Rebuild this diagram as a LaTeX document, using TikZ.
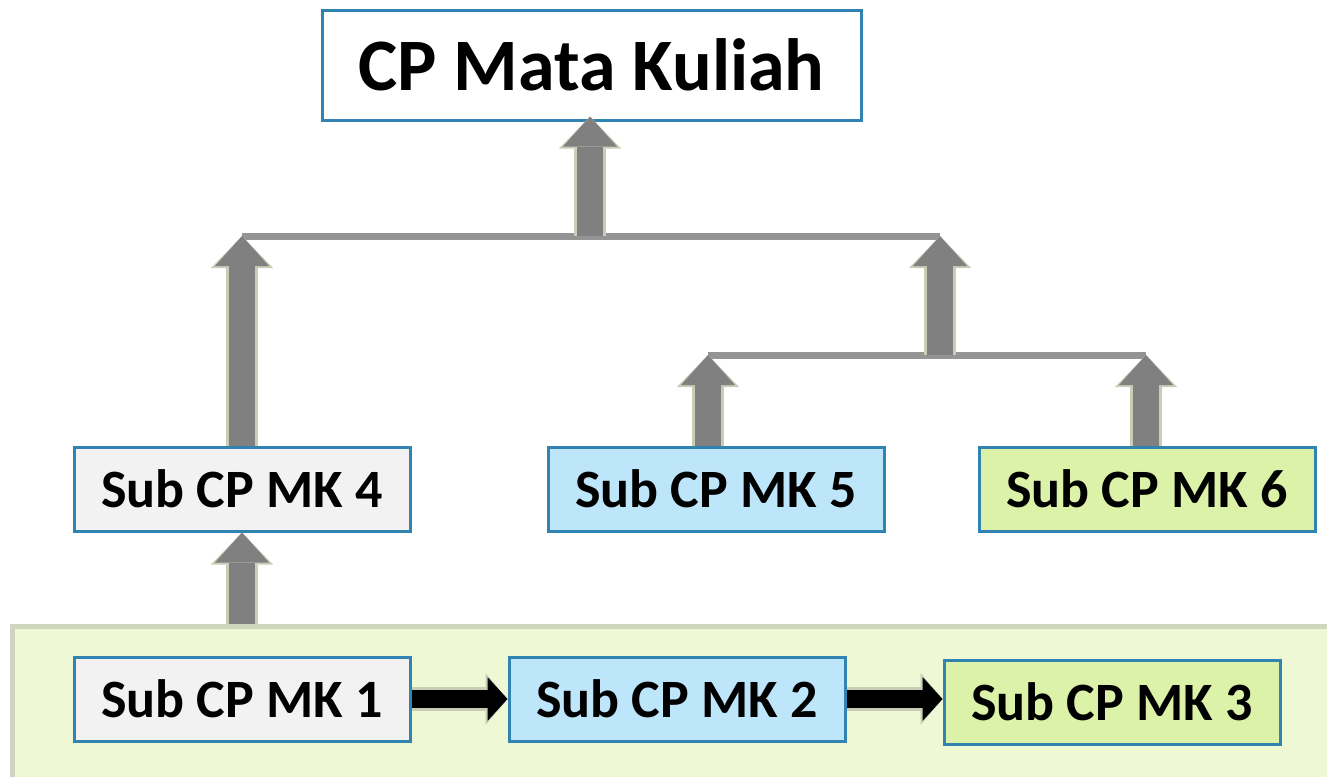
\documentclass[tikz,border=0pt]{standalone}
\usepackage{fontspec}
\setmainfont{Carlito}
\usepackage{xcolor}
\usetikzlibrary{arrows.meta}

\definecolor{boxblue}{RGB}{49,132,178}
\definecolor{fillgray}{RGB}{242,242,242}
\definecolor{fillblue}{RGB}{190,230,251}
\definecolor{fillgreen}{RGB}{220,242,168}
\definecolor{panelgreen}{RGB}{238,248,212}
\definecolor{panelrim}{RGB}{208,213,192}
\definecolor{arrgray}{RGB}{128,128,128}
\definecolor{arrrimc}{RGB}{200,205,182}
\definecolor{barcol}{RGB}{148,148,148}

\tikzset{
    subcp/.style={draw=boxblue, line width=1.5pt, inner sep=0pt, minimum width=168pt, minimum height=42pt, font=\fontsize{27}{30}\selectfont\bfseries},
    arrrim/.style={draw=arrrimc, line width=16pt, -{Triangle[width=31pt, length=16pt, line width=0pt, fill=arrrimc]}},
    arrbody/.style={draw=arrgray, line width=13pt, -{Triangle[width=27pt, length=15pt, line width=0pt, fill=arrgray]}},
    blkrim/.style={draw=arrrimc, line width=12pt, -{Triangle[width=26pt, length=11pt, line width=0pt, fill=arrrimc]}},
    blkbody/.style={draw=black, line width=9pt, -{Triangle[width=22pt, length=10pt, line width=0pt, fill=black]}},
    bar/.style={draw=barcol, line width=3.5pt}
}

\newcommand{\garrow}[2]{%
    \draw[arrrim] #1 -- #2;
    \draw[arrbody] #1 -- #2;
}
\newcommand{\karrow}[2]{%
    \draw[blkrim] #1 -- #2;
    \draw[blkbody] #1 -- #2;
}

\begin{document}
\begin{tikzpicture}[x=0.5pt, y=-0.5pt]
    \useasboundingbox (0,0) rectangle (1327,776);

    % panel behind the first three
    \node[draw=panelrim, fill=panelgreen, line width=2.5pt, minimum width=664pt, minimum height=82pt, inner sep=0pt] (grp) at (676,708) {};

    \node[draw=boxblue, fill=white, line width=1.5pt, inner sep=0pt, minimum width=269.5pt, minimum height=55pt, font=\fontsize{37}{40}\selectfont\bfseries] (cp) at (591.5,65) {CP Mata Kuliah};

    \node[subcp, fill=fillgray] (m4) at (242,489) {Sub CP MK 4};
    \node[subcp, fill=fillblue] (m5) at (716,489) {Sub CP MK 5};
    \node[subcp, fill=fillgreen] (m6) at (1147,489) {Sub CP MK 6};

    \node[subcp, fill=fillgray] (m1) at (242,699) {Sub CP MK 1};
    \node[subcp, fill=fillblue] (m2) at (677,699) {Sub CP MK 2};
    \node[subcp, fill=fillgreen] (m3) at (1112,702) {Sub CP MK 3};

    % junctions
    \coordinate (j4) at (242,236);
    \coordinate (jtop) at (590,236);
    \coordinate (j56) at (940,236);
    \coordinate (k56) at (940,355);
    \coordinate (k5) at (708,355);
    \coordinate (k6) at (1146,355);

    \draw[bar] (j4) -- (j56);
    \draw[bar] (k5) -- (k6);

    \garrow{(grp.north -| m4.south)}{(m4.south)}
    \garrow{(m4.north)}{(j4)}
    \garrow{(jtop)}{([yshift=2.5pt]jtop |- cp.south)}
    \garrow{(k56)}{(j56)}
    \garrow{(m5.north -| k5)}{(k5)}
    \garrow{(m6.north -| k6)}{(k6)}

    \karrow{(m1.east)}{(m2.west)}
    \karrow{(m2.east)}{(m2.east -| m3.west)}
\end{tikzpicture}
\end{document}
